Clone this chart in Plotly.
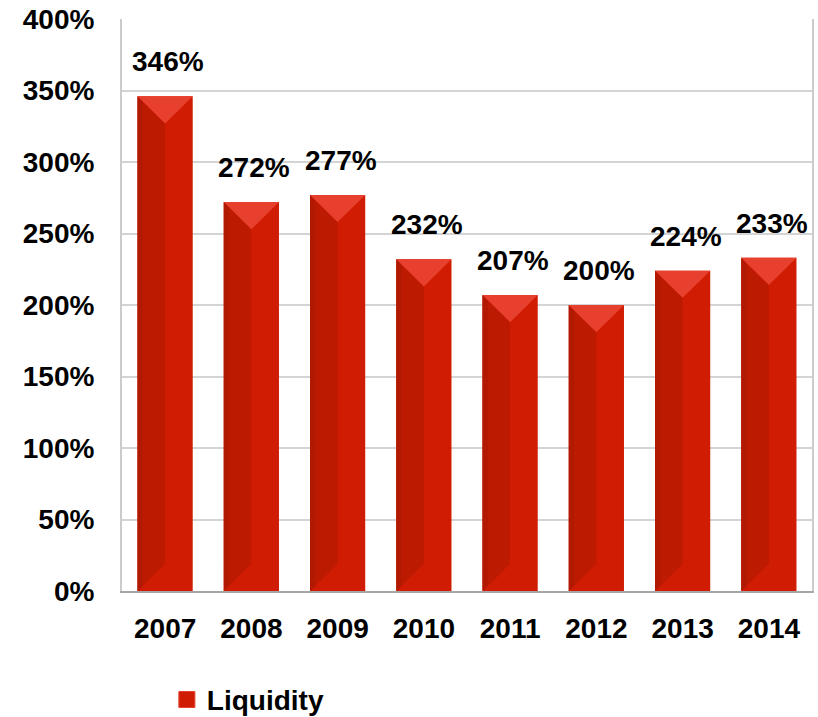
import plotly.graph_objects as go

years = [2007, 2008, 2009, 2010, 2011, 2012, 2013, 2014]
liquidity = [346, 272, 277, 232, 207, 200, 224, 233]
y_ticks = [0, 50, 100, 150, 200, 250, 300, 350, 400]

BAR_W = 0.64      # bar width in category units
BEVEL = 19        # bevel depth in % units
MAIN = "#d01c02"
DARK = "#bd1a02"
DARKER = "#a81702"
LIGHT = "#e8402e"
FONT = dict(family="Liberation Sans, Arial, sans-serif", size=28, color="black")

fig = go.Figure()

# base bars
fig.add_trace(go.Bar(x=years, y=liquidity, width=BAR_W, marker=dict(color=MAIN, line=dict(width=0)),
                     showlegend=False, hoverinfo="skip"))

# left bevel polygons (darker)
lx, ly = [], []
ex, ey = [], []
for x, v in zip(years, liquidity):
    h = BAR_W / 2
    lx += [x - h, x, x, x - h, x - h, None]
    ly += [0, BEVEL, v - BEVEL, v, 0, None]
    e = 0.06
    ex += [x - h, x - h + e, x - h + e, x - h, x - h, None]
    ey += [0, BEVEL * e / h, v - BEVEL * e / h, v, 0, None]
fig.add_trace(go.Scatter(x=lx, y=ly, mode="lines", fill="toself", fillcolor=DARK,
                         line=dict(width=0), showlegend=False, hoverinfo="skip"))
fig.add_trace(go.Scatter(x=ex, y=ey, mode="lines", fill="toself", fillcolor=DARKER,
                         line=dict(width=0), opacity=0.5, showlegend=False, hoverinfo="skip"))

# top triangles (lighter)
tx, ty = [], []
for x, v in zip(years, liquidity):
    h = BAR_W / 2
    tx += [x - h, x + h, x, x - h, None]
    ty += [v, v, v - BEVEL, v, None]
fig.add_trace(go.Scatter(x=tx, y=ty, mode="lines", fill="toself", fillcolor=LIGHT,
                         line=dict(width=0), showlegend=False, hoverinfo="skip"))

# legend entry
fig.add_trace(go.Scatter(x=[None], y=[None], mode="markers", name="<b>Liquidity</b>",
                         marker=dict(symbol="square", size=16, color=MAIN,
                                     line=dict(color=LIGHT, width=1))))

for x, v in zip(years, liquidity):
    fig.add_annotation(x=x, y=v, text=f"<b>{v}%</b>", showarrow=False, yanchor="bottom",
                       yshift=17, xshift=3, font=FONT)

fig.update_layout(
    width=818, height=717,
    margin=dict(l=122, r=6, t=19, b=126),
    plot_bgcolor="white", paper_bgcolor="white",
    font=FONT,
    showlegend=True,
    legend=dict(orientation="h", xref="container", yref="container",
                x=0.204, xanchor="left", y=0.024, yanchor="middle",
                font=FONT, itemsizing="trace", bgcolor="rgba(0,0,0,0)"),
)
fig.update_xaxes(range=[years[0] - 0.5, years[-1] + 0.5], tickvals=years,
                 ticktext=[f"<b>{y}</b>" for y in years], automargin=False,
                 showgrid=False, zeroline=False, showline=True, linecolor="#a6a6a6", linewidth=2,
                 ticks="", ticklabelstandoff=11, tickfont=FONT, fixedrange=True)
fig.update_yaxes(range=[0, 400], tickvals=y_ticks, ticktext=[f"<b>{t}%</b>" for t in y_ticks],
                 automargin=False,
                 showgrid=True, gridcolor="#d4d4d4", gridwidth=2, zeroline=False,
                 showline=True, linecolor="#cccccc", linewidth=2, mirror=True,
                 ticks="", ticklabelstandoff=20, tickfont=FONT, fixedrange=True)

fig.write_html("out.html", config={"displayModeBar": False},
               post_script="document.body.style.margin='0';document.body.style.overflow='hidden';")
